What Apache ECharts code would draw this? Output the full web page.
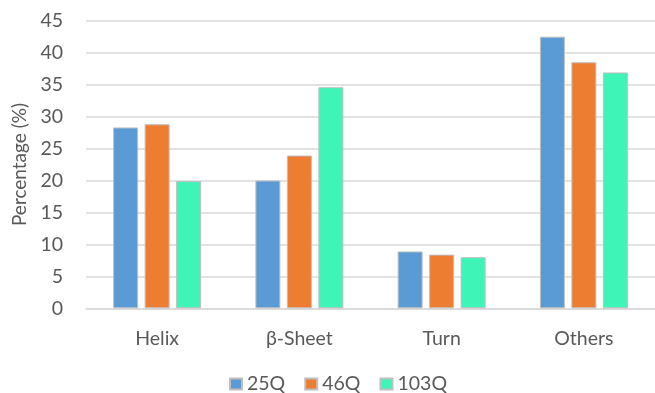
<!DOCTYPE html>
<html>
<head>
<meta charset="utf-8">
<script src="https://cdn.jsdelivr.net/npm/echarts@6/dist/echarts.min.js"></script>
<style>html,body{margin:0;padding:0;background:#fff;}#c{width:655px;height:393px;}</style>
</head>
<body>
<div id="c"></div>
<script>
const categories = ['Helix', 'β-Sheet', 'Turn', 'Others'];
const seriesNames = ['25Q', '46Q', '103Q'];
const values25Q = [28.3, 20.0, 8.9, 42.5];
const values46Q = [28.8, 23.9, 8.4, 38.5];
const values103Q = [19.9, 34.6, 8.0, 36.9];
const yTicks = { min: 0, max: 45, interval: 5 };

const colors = ['#5B9BD5', '#ED7D31', '#3EF5B7'];
const font = 'Lato, "Open Sans", sans-serif';
const chart = echarts.init(document.getElementById('c'), null, { renderer: 'canvas' });
const dataSets = [values25Q, values46Q, values103Q];
chart.setOption({
  animation: false,
  backgroundColor: '#fff',
  grid: { left: 86, right: -3, top: 20.7, bottom: 84.7, containLabel: false },
  legend: {
    data: seriesNames,
    top: 369,
    left: 224,
    itemWidth: 12, itemHeight: 11, itemGap: 19,
    icon: 'rect',
    textStyle: { fontFamily: font, fontSize: 19.5, color: '#595959' }
  },
  xAxis: {
    type: 'category',
    data: categories,
    axisLine: { lineStyle: { color: '#D9D9D9', width: 1.5 } },
    axisTick: { show: false },
    axisLabel: { fontFamily: font, fontSize: 19.5, color: '#595959', margin: 20 }
  },
  yAxis: {
    type: 'value',
    min: yTicks.min, max: yTicks.max, interval: yTicks.interval,
    name: 'Percentage (%)',
    nameLocation: 'middle',
    nameGap: 46,
    nameTextStyle: { fontFamily: font, fontSize: 19, color: '#595959' },
    axisLine: { show: false },
    axisTick: { show: false },
    axisLabel: { fontFamily: font, fontSize: 19.5, color: '#595959', margin: 23 },
    splitLine: { lineStyle: { color: '#D9D9D9', width: 1.5 } }
  },
  series: seriesNames.map((n, i) => ({
    name: n,
    type: 'bar',
    data: dataSets[i],
    barWidth: 25,
    barGap: '26%',
    itemStyle: { color: colors[i], borderColor: '#BFBFBF', borderWidth: 1 }
  }))
});
</script>
</body>
</html>
